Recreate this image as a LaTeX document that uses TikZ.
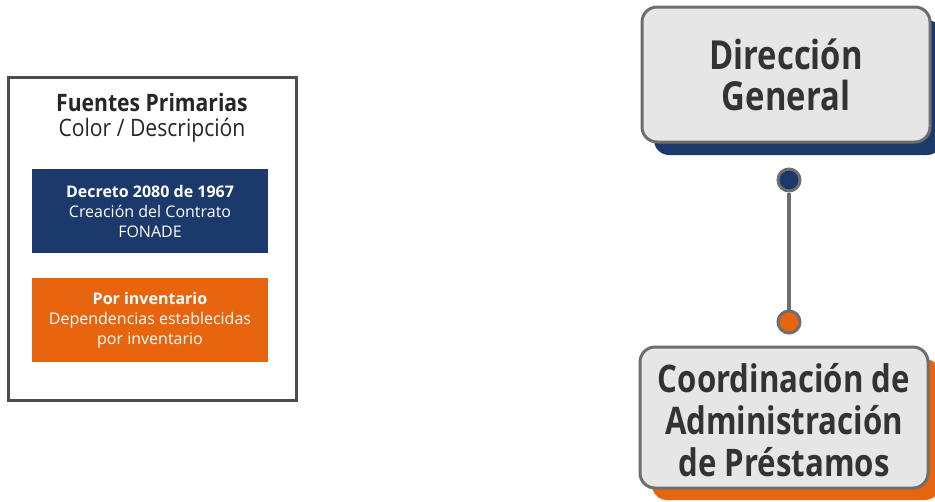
\documentclass[tikz,border=0pt]{standalone}
\usepackage{fontspec}
\setmainfont{Open Sans}[FakeStretch=0.82]
\newfontfamily\anchafont{Open Sans}
\newfontfamily\titulofont{Open Sans}[FakeStretch=0.88]
\usetikzlibrary{positioning, shadows}
\definecolor{azul}{HTML}{1B3A6B}
\definecolor{naranja}{HTML}{E8650F}
\definecolor{grisborde}{HTML}{6E6E6E}
\definecolor{grisfondo}{HTML}{E6E6E6}
\definecolor{texto}{HTML}{333333}

\begin{document}
\begin{tikzpicture}[x=1pt, y=-1pt,
            cargo/.style={
                draw=grisborde, fill=grisfondo, line width=3pt, rounded corners=15pt,
                minimum width=288pt, align=center, text=texto, inner sep=0pt,
                font=\fontsize{40}{41}\selectfont\bfseries
            },
            leyendabox/.style={
                minimum width=236pt, minimum height=84pt, inner sep=0pt, align=center,
                text=white, font=\anchafont\fontsize{16}{20}\selectfont
            },
            punto/.style={circle, draw=grisborde, line width=3pt, minimum size=22pt, inner sep=0pt}]
            \clip (0, 0) rectangle (935, 501);
            \fill[white] (0, 0) rectangle (935, 501);

            % leyenda
            \node[draw=black!70, line width=3pt, minimum width=288pt, minimum height=323pt] (leyenda) at (152, 238.5) {};
            \node[align=center, text=black!85, font=\titulofont\fontsize{24}{25}\selectfont] (titulo) at (152, 118)
                {\textbf{Fuentes Primarias}\\Color / Descripción};
            \node[leyendabox, fill=azul] (decreto) at (150, 211)
                {\textbf{Decreto 2080 de 1967}\\Creación del Contrato\\FONADE};
            \node[leyendabox, fill=naranja] (inventario) at (150, 320)
                {\textbf{Por inventario}\\Dependencias establecidas\\por inventario};

            % organigrama
            \node[cargo, minimum height=135pt,
                  drop shadow={shadow xshift=12pt, shadow yshift=-13pt, fill=azul, opacity=1}] (direccion) at (786, 74.5)
                {Dirección\\General};
            \node[cargo, minimum height=141pt, font=\fontsize{38}{42}\selectfont\bfseries,
                  drop shadow={shadow xshift=12pt, shadow yshift=-12pt, fill=naranja, opacity=1}] (coordinacion) at (784, 417.5)
                {\\[-8pt]Coordinación de\\Administración\\de Préstamos};

            \node[punto, fill=azul] (puntoA) at (789, 180) {};
            \node[punto, fill=naranja] (puntoB) at (789, 322) {};
            \draw[grisborde, line width=4pt] (puntoA.south) -- (puntoB.north);
        \end{tikzpicture}
\end{document}
